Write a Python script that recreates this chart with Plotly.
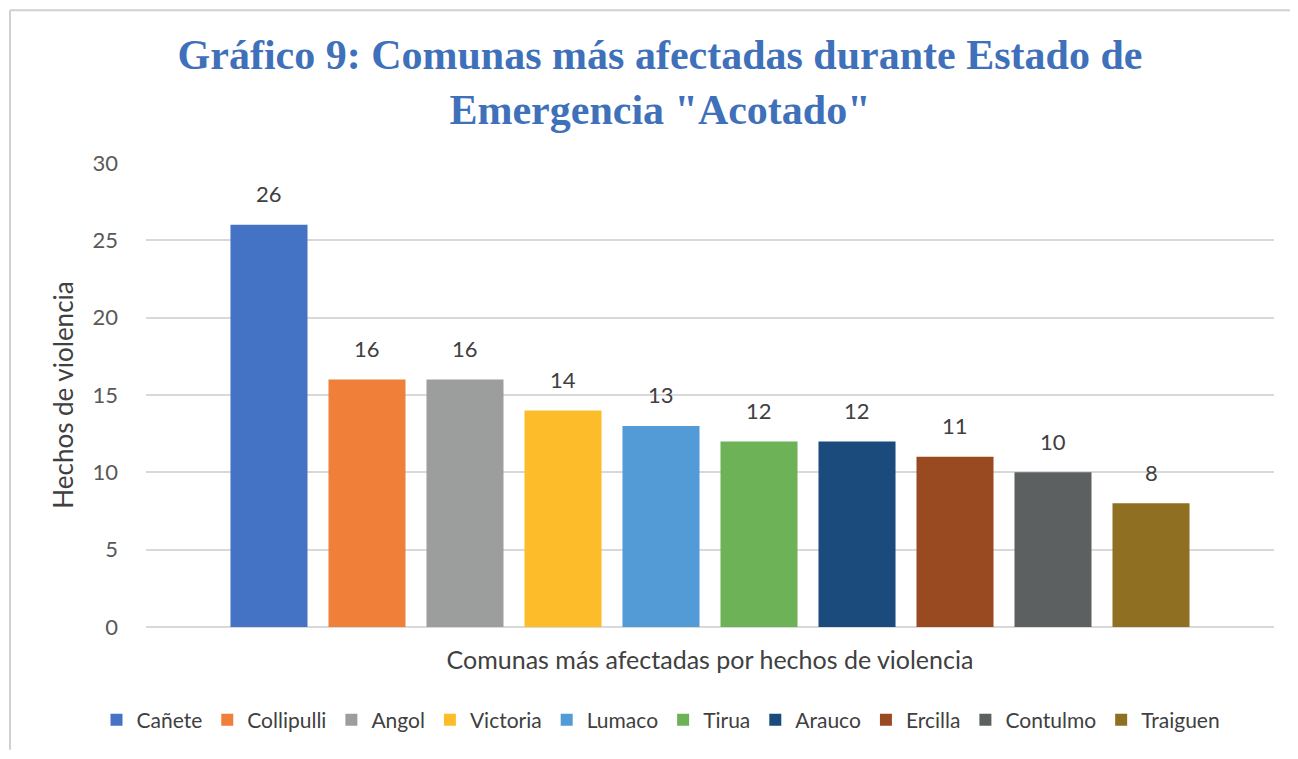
import plotly.graph_objects as go

comunas = ["Cañete", "Collipulli", "Angol", "Victoria", "Lumaco", "Tirua", "Arauco", "Ercilla", "Contulmo", "Traiguen"]
hechos = [26, 16, 16, 14, 13, 12, 12, 11, 10, 8]
colores = ["#4472C4", "#F07F3A", "#9C9E9D", "#FDBD2A", "#529BD6", "#6DB257", "#1B4A7C", "#9A4A20", "#5C6061", "#8F6F22"]
yticks = [0, 5, 10, 15, 20, 25, 30]

# page has an 8px body margin; figure coordinates = screen - 8
W, H = 1282, 743
PL, PR, PT, PB = 138, 1266, 155, 620

def px_to_paper_x(px):
    return (px - PL) / (PR - PL)

def py_to_paper_y(py):
    return (PB - py) / (PB - PT)

font = "Lato, 'Open Sans', sans-serif"

fig = go.Figure()
for i, (c, v, col) in enumerate(zip(comunas, hechos, colores)):
    fig.add_trace(go.Bar(x=[i], y=[v], name=c, marker=dict(color=col, line=dict(width=0)), width=0.786))
    fig.add_annotation(x=i, y=v, text=str(v), showarrow=False, yshift=31, yanchor="middle",
                       font=dict(family=font, size=22, color="#404040"))

fig.update_layout(
    width=W, height=H,
    margin=dict(l=PL, r=W - PR, t=PT, b=H - PB),
    paper_bgcolor="white", plot_bgcolor="white",
    barmode="overlay",
    title=dict(text="Gráfico 9: Comunas más afectadas durante Estado de<br>Emergencia \"Acotado\"",
               font=dict(family="'Liberation Serif', 'Times New Roman', serif", size=42, color="#3F70BA", weight="bold"),
               x=652 / W, xanchor="center", y=1 - 61 / H, yanchor="middle", yref="container"),
    xaxis=dict(range=[-1.255, 10.255], showticklabels=False, showgrid=False, zeroline=False,
               title=dict(text="Comunas más afectadas por hechos de violencia", standoff=24,
                          font=dict(family=font, size=25, color="#404040"))),
    yaxis=dict(range=[0, 30], tickvals=yticks, showgrid=True, gridcolor="#D9D9D9", gridwidth=2,
               zeroline=True, zerolinecolor="#D9D9D9", zerolinewidth=2,
               tickfont=dict(family=font, size=22, color="#595959"), ticklabelstandoff=27,
               title=dict(text="Hechos de violencia", standoff=11,
                          font=dict(family=font, size=26, color="#404040"))),
    legend=dict(orientation="h", x=px_to_paper_x(653), xanchor="center", y=py_to_paper_y(712), yanchor="middle",
                font=dict(family=font, size=21, color="#404040"), itemwidth=30, traceorder="normal"),
    showlegend=True,
)

fig.add_shape(type="line", xref="paper", yref="paper",
              x0=px_to_paper_x(2), x1=px_to_paper_x(2), y0=py_to_paper_y(H), y1=py_to_paper_y(2),
              line=dict(color="#D0D0D0", width=2))
fig.add_shape(type="line", xref="paper", yref="paper",
              x0=px_to_paper_x(2), x1=px_to_paper_x(W), y0=py_to_paper_y(2), y1=py_to_paper_y(2),
              line=dict(color="#D0D0D0", width=2))

fig.write_html("out.html")
